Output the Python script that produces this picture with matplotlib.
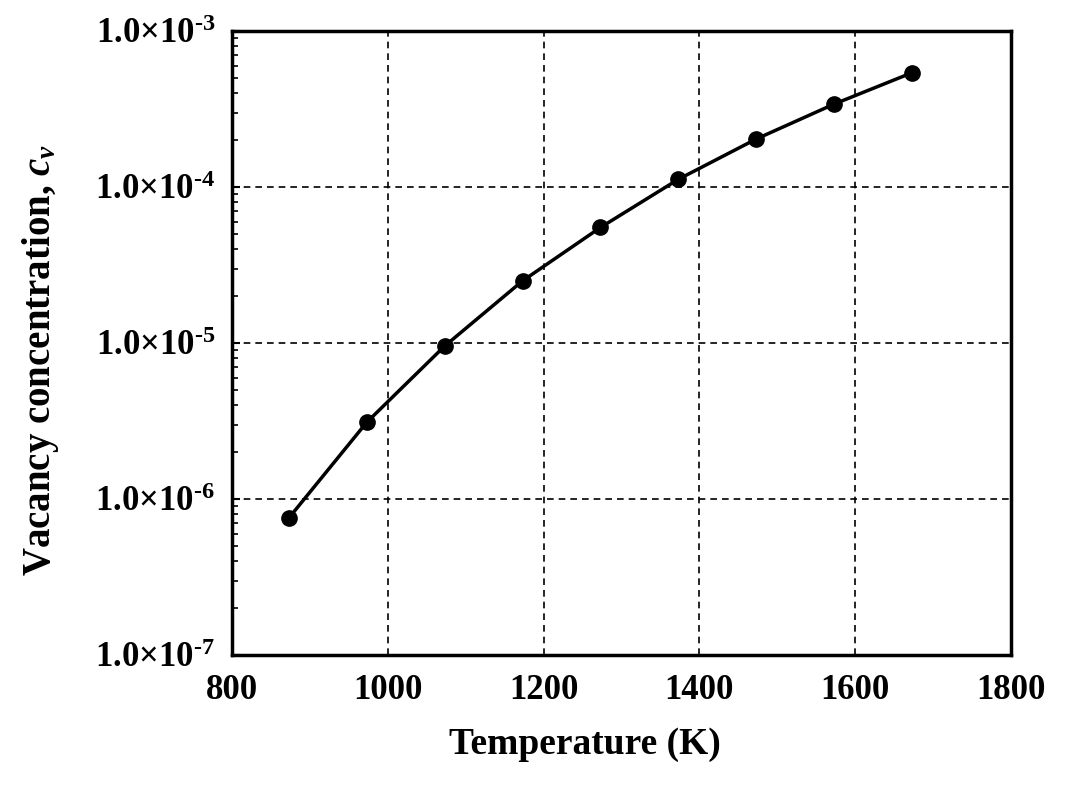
import matplotlib
matplotlib.use('Agg')
import matplotlib.pyplot as plt
from matplotlib.ticker import FuncFormatter, LogLocator, NullFormatter
import numpy as np

# temperature (K) and vacancy concentration
temperature = [873, 973, 1073, 1173, 1273, 1373, 1473, 1573, 1673]
c_v = [7.55e-7, 3.1e-6, 9.55e-6, 2.5e-5, 5.5e-5, 1.12e-4, 2.03e-4, 3.4e-4, 5.4e-4]

plt.rcParams['font.family'] = 'Liberation Serif'
plt.rcParams['font.weight'] = 'bold'
plt.rcParams['axes.unicode_minus'] = False
plt.rcParams['mathtext.fontset'] = 'custom'
plt.rcParams['mathtext.rm'] = 'Liberation Serif:bold'
plt.rcParams['mathtext.it'] = 'Liberation Serif:bold:italic'
plt.rcParams['mathtext.bf'] = 'Liberation Serif:bold'
plt.rcParams['mathtext.default'] = 'rm'

fig = plt.figure(figsize=(10.67, 7.86), dpi=100)
ax = fig.add_axes([0.2174, 0.1667, 0.7301, 0.7939])

ax.plot(temperature, c_v, color='black', lw=2.5, marker='o', ms=11, zorder=3)

ax.set_yscale('log')
ax.set_xlim(800, 1800)
ax.set_ylim(1e-7, 1e-3)
ax.set_xticks([800, 1000, 1200, 1400, 1600, 1800])

def sci(v, pos):
    e = int(round(np.log10(v)))
    return '1.0\u00d710$^{\\mathregular{' + str(e).replace('-', '\u2010') + '}}$'

ax.yaxis.set_major_locator(LogLocator(base=10, numticks=10))
ax.yaxis.set_major_formatter(FuncFormatter(sci))
ax.yaxis.set_minor_locator(LogLocator(base=10, subs=np.arange(2, 10), numticks=10))
ax.yaxis.set_minor_formatter(NullFormatter())

ax.grid(True, which='major', color='black', ls=(0, (4, 3)), lw=1.2)
for s in ax.spines.values():
    s.set_linewidth(2.5)

ax.tick_params(axis='both', which='major', direction='in', labelsize=25, length=6, width=1.5, pad=12)
ax.tick_params(axis='y', which='minor', direction='in', length=4, width=1.2)
ax.tick_params(axis='x', which='major', length=0, pad=14)
for lab in ax.get_xticklabels() + ax.get_yticklabels():
    lab.set_fontweight('bold')

ax.set_xlabel('Temperature (K)', fontsize=27, fontweight='bold', labelpad=18)
ax.xaxis.set_label_coords(0.453, -0.115)
ax.set_ylabel(r'Vacancy concentration, $\mathit{c_v}$', fontsize=28, fontweight='bold')
ax.yaxis.set_label_coords(-0.219, 0.473)

fig.savefig('out.png', dpi=100)
